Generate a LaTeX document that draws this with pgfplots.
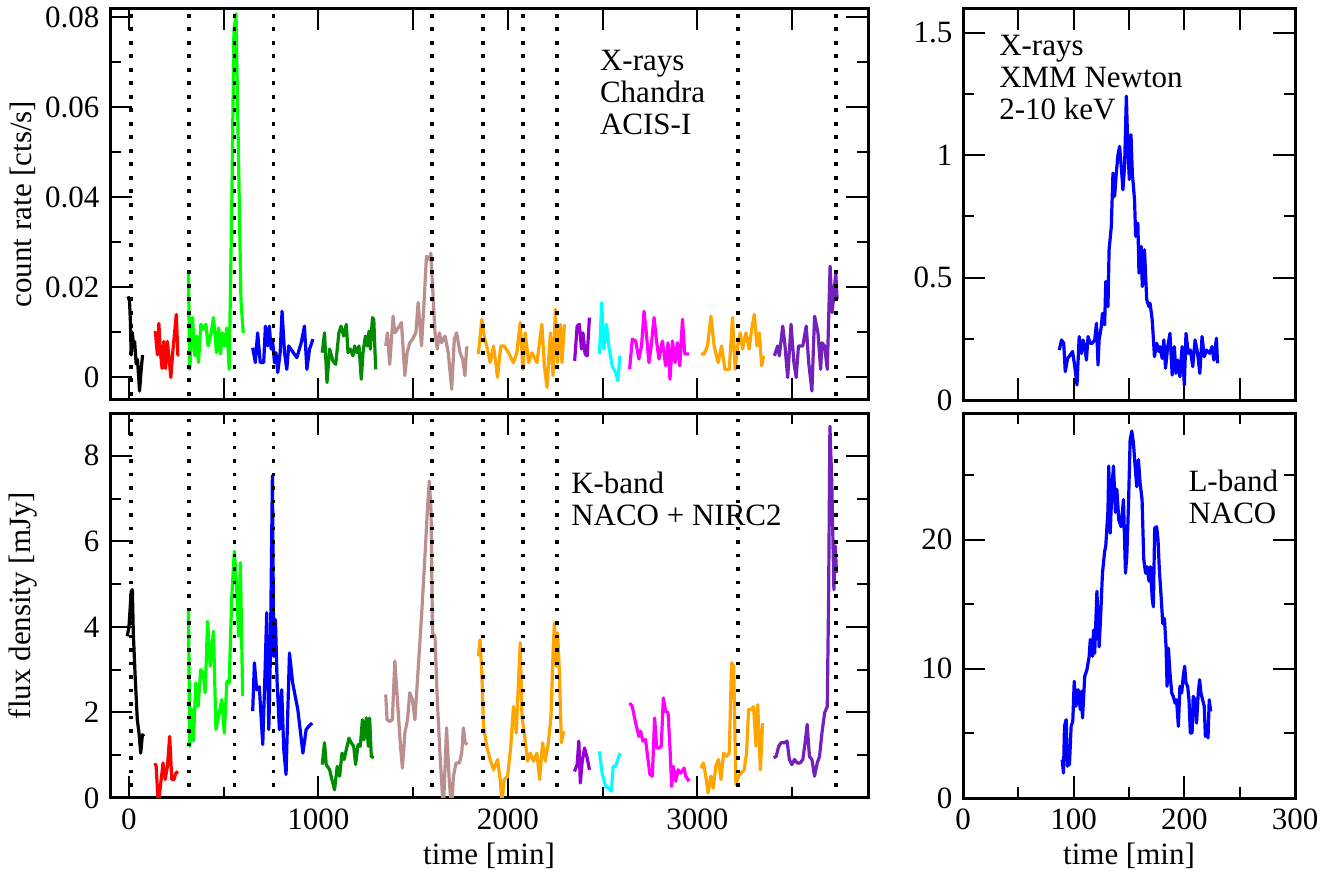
\documentclass[border=0pt]{standalone}
\usepackage{fontspec}
\setmainfont{Liberation Serif}
\usepackage{pgfplots}
\pgfplotsset{compat=1.18}

\definecolor{grred}{RGB}{255,0,0}
\definecolor{grgreen}{RGB}{0,255,0}
\definecolor{grblue}{RGB}{0,0,255}
\definecolor{grbrown}{RGB}{188,143,143}
\definecolor{grviolet}{RGB}{148,0,211}
\definecolor{grcyan}{RGB}{0,255,255}
\definecolor{grmagenta}{RGB}{255,0,255}
\definecolor{grorange}{RGB}{255,165,0}
\definecolor{grindigo}{RGB}{114,33,188}
\definecolor{grgreenfour}{RGB}{0,139,0}

\pgfplotsset{
  panel/.style={
    scale only axis, anchor=north west,
    axis line style={line width=1.5pt},
    tick style={line width=1pt, black},
    major tick length=11pt, minor tick length=5.5pt,
    tick align=inside, xtick pos=both, ytick pos=both,
    scaled x ticks=false, scaled y ticks=false,
    every axis plot/.append style={line width=1.6pt, line join=round, no marks},
    tick label style={font=\fontsize{15.5}{16}\selectfont},
    label style={font=\fontsize{15.5}{16}\selectfont},
    xlabel style={yshift=4pt},
    clip=true,
  },
  leftpanel/.style={panel, width=379pt, xmin=-100, xmax=3900,
    ylabel style={at={(axis description cs:-0.115,0.5)}, anchor=center, rotate=0}},
  rightpanel/.style={panel, width=166pt, xmin=0, xmax=300},
  dotline/.style={black, line width=1.8pt, dash pattern=on 1.8pt off 4.95pt},
}

\begin{document}
\fontsize{15.5}{16}\selectfont
\begin{tikzpicture}
\path[use as bounding box] (0,0) rectangle (669pt,-436.5pt);

% ---------------- top left: Chandra
\begin{axis}[leftpanel, at={(55pt,-4pt)}, height=196pt,
  ymin=-0.005, ymax=0.082,
  xtick={0,500,...,3500}, xticklabels={},
  ytick={0,0.02,0.04,0.06,0.08}, yticklabels={0,0.02,0.04,0.06,0.08},
  minor ytick={0.01,0.03,0.05,0.07},
  ylabel={count rate [cts/s]}]
\addplot[black] coordinates {(-5,0.018)(3,0.017)(8,0.012)(12,0.005)(18,0.010)(24,0.007)(30,0.008)(38,0.003)(45,0.004)(56,-0.003)(65,0.002)(72,0.005)};
\addplot[grred] coordinates {(132,0.010)(140,0.010)(150,0.005)(158,0.012)(165,0.006)(175,0.002)(184,0.008)(193,0.002)(203,0.008)(212,0.004)(221,0.000)(232,0.006)(250,0.014)(258,0.005)(265,0.005)};
\addplot[grgreen] coordinates {(314,0.0232)(321,0.0018)(335,0.0133)(348,0.0048)(356,0.0092)(367,0.0033)(379,0.0118)(392,0.0107)(406,0.0118)(418,0.007)(434,0.0099)(446,0.0133)(462,0.0055)(473,0.011)(483,0.0052)(494,0.0099)(506,0.007)(517,0.011)(529,0.0018)(543,0.0394)(554,0.077)(565,0.0807)(582,0.0394)(591,0.0173)(603,0.0099)};
\addplot[grblue] coordinates {(653,0.0066)(667,0.0033)(679,0.0099)(693,0.0033)(711,0.0033)(720,0.0114)(732,0.007)(741,0.0114)(750,0.0063)(759,0.0077)(768,0.0033)(776,0.0055)(785,0.0011)(798,0.0055)(808,0.0147)(821,0.0055)(833,0.0018)(843,0.007)(861,0.0059)(886,0.0044)(909,0.0077)(926,0.0114)(939,0.0018)(953,0.0063)(971,0.0085)};
\addplot[grgreenfour] coordinates {(1020,0.0055)(1032,0.0099)(1045,-0.0011)(1059,0.0063)(1076,0.0037)(1091,0.0029)(1108,0.0099)(1119,0.0114)(1133,0.0092)(1147,0.0118)(1156,0.0055)(1168,0.0063)(1182,0.0048)(1191,0.007)(1203,0.0055)(1214,0.007)(1226,-0.0004)(1235,0.0055)(1248,0.0092)(1258,0.007)(1267,0.0103)(1274,0.0063)(1285,0.0133)(1292,0.0129)(1302,0.0018)};
\addplot[grbrown] coordinates {(1355,0.007)(1364,0.0099)(1376,0.0029)(1394,0.0136)(1403,0.0099)(1421,0.011)(1438,0.0122)(1456,0.0004)(1468,0.0055)(1482,0.0077)(1496,0.0085)(1514,0.0099)(1526,0.0166)(1544,0.007)(1558,0.0173)(1570,0.0269)(1585,0.0262)(1593,0.0276)(1602,0.0203)(1615,0.0099)(1627,0.0063)(1638,0.0099)(1650,0.0077)(1668,0.0092)(1685,0.0055)(1703,-0.0026)(1717,0.0085)(1729,0.0099)(1747,0.0055)(1761,0.0041)(1773,0.0004)(1782,0.0066)(1791,0.0066)};
\addplot[grorange] coordinates {(1844,0.0052)(1862,0.0129)(1875,0.009)(1888,0.007)(1906,0.0033)(1924,0.007)(1945,0)(1962,0.007)(1980,0.007)(2003,0.0055)(2029,0.0033)(2047,0.0055)(2065,0.0122)(2079,0.0018)(2091,0.0099)(2109,0.0033)(2127,0.0055)(2153,0.0033)(2179,0.0118)(2192,0.0026)(2206,-0.0022)(2224,0.0099)(2238,0.0004)(2250,0.0151)(2262,0.0033)(2276,0.0118)(2285,0.0033)(2298,0.0118)};
\addplot[grviolet] coordinates {(2352,0.0037)(2365,0.0114)(2377,0.0118)(2388,0.0063)(2396,0.0099)(2407,0.0052)(2418,0.0048)(2430,0.0133)};
\addplot[grcyan] coordinates {(2483,0.0052)(2495,0.0166)(2506,0.0063)(2520,0.0118)(2532,0.007)(2550,0.0026)(2568,0.0011)(2580,-0.0007)(2591,0.0048)};
\addplot[grmagenta] coordinates {(2642,0.0018)(2656,0.0085)(2674,0.0081)(2691,0.0041)(2705,0.007)(2718,0.0147)(2730,0.0099)(2744,0.0033)(2756,0.007)(2771,0.0133)(2783,0.0085)(2797,0.0041)(2815,0.0081)(2832,0.0026)(2845,0.0077)(2855,-0.0004)(2868,0.0081)(2882,0.0033)(2894,0.0077)(2907,0.0026)(2921,0.0129)(2933,0.0052)(2944,0.0052)(2956,0.0052)};
\addplot[grorange] coordinates {(3018,0.0052)(3035,0.0052)(3053,0.007)(3071,0.0136)(3088,0.007)(3109,0.0033)(3127,0.007)(3145,0.0018)(3168,0.0018)(3185,0.0133)(3199,0.0018)(3212,0.007)(3226,0.0099)(3238,0.0063)(3256,0.0099)(3273,0.0063)(3286,0.0107)(3300,0.014)(3314,0.007)(3326,0.0099)(3339,0.0026)(3349,0.0048)};
\addplot[grindigo] coordinates {(3406,0.0048)(3423,0.007)(3432,0.0048)(3450,0.0114)(3462,0.007)(3476,0)(3494,0.0118)(3509,0.0033)(3521,0)(3533,0.007)(3556,0.007)(3574,0.0114)(3587,0.0033)(3604,-0.003)(3618,0.0136)(3636,0.0099)(3650,0.0018)(3657,0.0077)(3671,0.007)(3685,0.0018)(3700,0.0247)(3711,0.0144)(3720,0.0188)(3730,0.0232)(3737,0.0173)};
\foreach \t in {10,317,556,762,1599,1869,2080,2260,3213,3732}{
  \edef\tmp{\noexpand\addplot[dotline] coordinates {(\t,-0.01)(\t,0.1)};}\tmp
}
\node[anchor=north west, align=left, inner sep=0pt] at (rel axis cs:0.646,0.893) {X-rays\\Chandra\\ACIS-I};
\end{axis}

% ---------------- bottom left: K-band
\begin{axis}[leftpanel, at={(55pt,-206.5pt)}, height=192.5pt,
  ymin=0, ymax=9,
  xtick={0,1000,2000,3000}, xticklabels={0,1000,2000,3000},
  minor xtick={500,1500,2500,3500},
  ytick={0,2,4,6,8}, yticklabels={0,2,4,6,8}, minor ytick={1,3,5,7},
  xlabel={time [min]}, ylabel={flux density [mJy]}]
\addplot[black] coordinates {(-9,3.78)(0,4.0)(12,4.83)(18,4.87)(23,3.86)(32,2.92)(44,1.83)(53,1.52)(62,1.05)(71,1.48)(79,1.44)};
\addplot[grred] coordinates {(132,0.78)(143,0.78)(155,-0.16)(168,0.35)(180,0.82)(191,0.43)(203,0.74)(215,1.44)(226,0.43)(238,0.43)(247,0.58)(259,0.62)};
\addplot[grgreen] coordinates {(314,4.37)(321,1.21)(332,2.07)(340,1.33)(353,2.69)(365,2.14)(379,3.0)(392,2.92)(402,2.46)(415,4.13)(429,3.08)(446,3.9)(459,1.6)(473,1.91)(490,2.3)(503,1.52)(517,2.73)(529,2.69)(542,4.64)(556,5.77)(568,4.95)(579,3.78)(588,5.5)(600,2.38)};
\addplot[grblue] coordinates {(653,2.03)(662,3.16)(674,2.53)(688,2.6)(706,1.25)(718,2.92)(727,4.33)(738,1.6)(746,3.24)(757,7.54)(764,3.31)(773,4.17)(782,2.69)(794,1.6)(806,2.53)(817,1.13)(829,0.55)(847,3.39)(864,2.69)(891,2.07)(918,1.05)(935,1.6)(949,1.68)(967,1.75)};
\addplot[grgreenfour] coordinates {(1020,0.78)(1032,1.29)(1041,0.78)(1059,0.66)(1071,0.43)(1085,0.19)(1099,0.74)(1112,0.51)(1124,1.05)(1135,0.9)(1147,1.13)(1161,1.4)(1173,1.29)(1186,1.21)(1196,0.78)(1209,1.25)(1221,1.21)(1232,1.83)(1240,1.36)(1253,1.87)(1263,1.21)(1270,1.87)(1279,0.97)(1292,0.94)};
\addplot[grbrown] coordinates {(1355,2.42)(1362,1.83)(1376,1.79)(1390,1.83)(1403,3.2)(1420,2.07)(1433,1.21)(1443,0.7)(1456,1.52)(1470,1.83)(1482,2.46)(1496,2.3)(1509,1.83)(1526,3.0)(1544,4.25)(1562,5.65)(1576,6.82)(1585,7.41)(1594,6.74)(1602,3.86)(1615,3.78)(1627,2.3)(1641,1.05)(1659,-0.3)(1676,1.64)(1690,0.43)(1703,-0.3)(1712,0.5)(1726,0.82)(1744,0.82)(1756,1.05)(1765,1.64)(1774,1.29)(1786,1.25)};
\addplot[grorange] coordinates {(1844,3.31)(1853,3.7)(1862,2.92)(1871,1.68)(1888,1.21)(1906,0.9)(1924,0.66)(1945,0.9)(1959,0.43)(1968,-0.1)(1980,0.43)(1998,0.5)(2015,1.21)(2029,2.14)(2044,1.52)(2056,2.77)(2065,3.63)(2074,1.91)(2088,1.44)(2104,0.86)(2118,1.05)(2135,0.86)(2153,1.05)(2167,0.43)(2183,1.29)(2197,0.86)(2215,1.36)(2227,1.91)(2238,3.39)(2245,4.09)(2255,3.08)(2262,3.86)(2271,3.0)(2282,1.29)(2294,1.56)};
\addplot[grviolet] coordinates {(2351,0.62)(2365,0.78)(2374,1.33)(2382,0.35)(2391,0.82)(2404,1.17)(2418,0.94)(2430,0.66)};
\addplot[grcyan] coordinates {(2483,1.09)(2497,0.58)(2515,0.27)(2532,0.23)(2546,0.16)(2555,0.74)(2568,0.74)(2580,0.9)(2591,1.05)};
\addplot[grmagenta] coordinates {(2642,2.22)(2656,2.14)(2674,1.75)(2691,1.44)(2700,1.56)(2712,1.33)(2726,1.37)(2735,1.05)(2749,0.55)(2762,0.51)(2774,1.87)(2785,1.17)(2797,1.17)(2809,1.21)(2820,2.34)(2832,2.03)(2845,1.99)(2855,1.17)(2864,0.27)(2873,0.74)(2885,0.39)(2898,0.66)(2912,0.58)(2929,0.7)(2938,0.51)(2956,0.39)};
\addplot[grorange] coordinates {(3018,0.7)(3032,0.82)(3044,0.51)(3056,0.12)(3071,0.51)(3083,0.23)(3097,0.74)(3111,0.9)(3124,0.43)(3138,1.05)(3152,0.97)(3168,1.05)(3180,3.16)(3191,3.08)(3203,0.31)(3217,0.51)(3229,0.58)(3247,0.66)(3259,1.05)(3270,2.07)(3286,2.07)(3296,2.14)(3309,1.21)(3318,2.18)(3332,0.66)(3344,1.75)};
\addplot[grindigo] coordinates {(3402,0.94)(3415,0.97)(3429,1.21)(3441,1.29)(3459,1.29)(3473,1.33)(3485,0.9)(3498,0.78)(3512,0.9)(3526,0.82)(3542,0.82)(3556,0.9)(3568,1.29)(3579,1.72)(3591,0.97)(3604,0.9)(3618,0.51)(3632,0.82)(3644,0.97)(3657,1.52)(3671,1.99)(3685,2.14)(3692,4.64)(3699,8.69)(3709,7.37)(3720,4.87)(3727,5.89)(3734,5.26)};
\foreach \t in {10,317,556,762,1599,1869,2080,2260,3213,3732}{
  \edef\tmp{\noexpand\addplot[dotline] coordinates {(\t,-1)(\t,10)};}\tmp
}
\node[anchor=north west, align=left, inner sep=0pt] at (rel axis cs:0.608,0.847) {K-band\\NACO + NIRC2};
\end{axis}

% ---------------- top right: XMM
\begin{axis}[rightpanel, at={(481.5pt,-4pt)}, height=196pt,
  ymin=0, ymax=1.6,
  xtick={0,50,...,300}, xticklabels={},
  ytick={0,0.5,1,1.5}, yticklabels={0,0.5,1,1.5}, minor ytick={0.25,0.75,1.25}]
\addplot[grblue] coordinates {(87,0.204)(89,0.245)(91,0.232)(92.4,0.116)(94.5,0.17)(97,0.184)(99,0.198)(101,0.136)(103,0.061)(105,0.259)(107,0.19)(108.5,0.245)(110,0.218)(111.5,0.163)(113,0.259)(115,0.232)(117,0.232)(119,0.245)(120.6,0.313)(122,0.143)(123,0.245)(125,0.30)(126,0.354)(128,0.307)(129,0.484)(131,0.381)(132,0.613)(134,0.708)(135.5,0.926)(137,0.831)(138.5,0.926)(140,1.0)(141.5,1.035)(143,0.954)(144.5,0.858)(146,0.954)(147.6,1.24)(149,1.02)(150.3,0.90)(151.8,1.083)(153,0.926)(155,0.817)(156,0.668)(158,0.722)(159,0.518)(161,0.627)(162,0.463)(164,0.613)(166,0.409)(168,0.381)(169,0.395)(171,0.327)(173,0.177)(175,0.232)(177,0.198)(178,0.218)(180,0.17)(181.5,0.245)(183,0.13)(185,0.218)(187,0.272)(189,0.102)(191,0.218)(192.4,0.109)(194,0.163)(196,0.095)(198,0.218)(200,0.061)(201.5,0.272)(203.6,0.19)(205.5,0.204)(207.6,0.136)(209.7,0.245)(212,0.19)(214,0.109)(216,0.259)(218,0.177)(220,0.204)(223,0.19)(225,0.218)(226.7,0.163)(229,0.252)(230,0.15)};
\node[anchor=north west, align=left, inner sep=0pt] at (rel axis cs:0.108,0.931) {X-rays\\XMM Newton\\2-10 keV};
\end{axis}

% ---------------- bottom right: L-band
\begin{axis}[rightpanel, at={(481.5pt,-206.5pt)}, height=192.5pt,
  ymin=0, ymax=29.8,
  xtick={0,100,200,300}, xticklabels={0,100,200,300}, minor xtick={50,150,250},
  ytick={0,10,20}, yticklabels={0,10,20}, minor ytick={5,15,25},
  xlabel={time [min]}]
\addplot[grblue] coordinates {(89.6,2.97)(90.8,1.94)(91.7,5.55)(93.2,6.06)(94.4,2.45)(95.3,4.0)(96.2,2.58)(97.7,5.55)(99.2,5.94)(100.5,9.03)(102,7.1)(104,8.39)(106,6.84)(107,8.26)(108,6.2)(110,9.42)(112,9.94)(114,10.97)(115,12.26)(117,10.97)(118,13.0)(119,11.2)(121,16.0)(123,11.7)(124.5,14.3)(126,17.4)(128,19.1)(129,19.5)(131,22.3)(131.7,25.7)(133,20.5)(134.7,24.2)(136,25.7)(137.7,22.1)(139,23.9)(140.8,21.5)(142.9,21.0)(145,23.1)(146.8,17.4)(148,18.7)(149.5,22.6)(151,27.7)(152.5,28.4)(154,27.5)(155.5,25.7)(157,24.1)(158.5,26.2)(160,24.4)(161.8,23.1)(163.3,18.5)(165,17.4)(166.3,17.9)(168,16.8)(169.3,17.9)(171,15.4)(172,14.8)(173.2,20.9)(175,21.0)(176.2,20.0)(177.4,17.7)(179,15.6)(180.5,13.5)(182,13.9)(183.5,11.7)(184.4,8.65)(185.6,11.6)(187,9.7)(188.6,8.13)(190,7.87)(191.6,7.35)(193,7.6)(194.6,5.55)(196,8.65)(197.6,8.13)(199,9.42)(200.3,10.2)(201.5,8.9)(203,8.65)(204.2,7.6)(205.4,5.03)(207,5.03)(208,7.87)(209.6,7.6)(211,5.8)(212.6,8.13)(213.8,9.16)(215,8.13)(216.5,7.6)(218,7.1)(219,4.77)(220.5,5.03)(221.4,4.65)(222.5,7.6)(223.8,6.7)};
\node[anchor=north west, align=left, inner sep=0pt] at (rel axis cs:0.678,0.852) {L-band\\NACO};
\end{axis}
\end{tikzpicture}
\end{document}
